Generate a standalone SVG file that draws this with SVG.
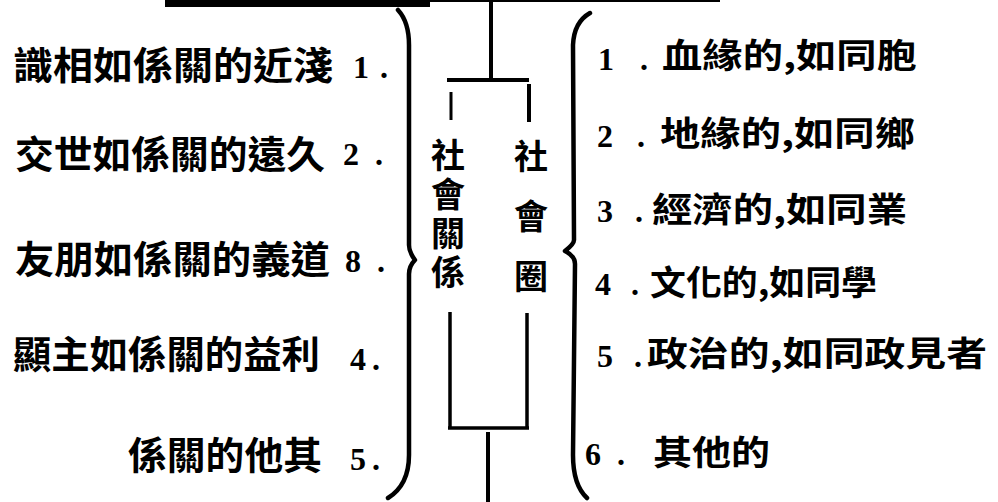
<svg xmlns="http://www.w3.org/2000/svg" width="998" height="502" viewBox="0 0 998 502">
<style>
.cjk{font-family:"Noto Sans CJK TC","Noto Sans CJK SC",sans-serif;font-weight:700;fill:#000}
.num{font-family:"Liberation Serif",serif;font-weight:700;fill:#000}
.l{font-size:38px}
.r{font-size:34px}
.v{font-size:34px;writing-mode:vertical-rl;text-orientation:upright}
.ln{stroke:#000;fill:none;stroke-linecap:butt}
.br{stroke:#000;fill:none;stroke-width:4.5;stroke-linecap:round;stroke-linejoin:round}
</style>
<rect width="998" height="502" fill="#fff"/>
<g id="top-rule">
<rect x="165" y="0" width="265" height="7" fill="#000"/>
<line class="ln" x1="430" y1="1" x2="720" y2="1" stroke-width="2"/>
</g>
<g id="connectors">
<line class="ln" x1="491" y1="0" x2="491" y2="80" stroke-width="4"/>
<line class="ln" x1="447" y1="80" x2="529" y2="80" stroke-width="4"/>
<line class="ln" x1="451" y1="92" x2="451" y2="120" stroke-width="3"/>
<line class="ln" x1="529" y1="84" x2="529" y2="122" stroke-width="4"/>
<line class="ln" x1="450" y1="312" x2="450" y2="429" stroke-width="3.5"/>
<line class="ln" x1="527" y1="313" x2="527" y2="429" stroke-width="3.5"/>
<line class="ln" x1="448" y1="428" x2="529" y2="428" stroke-width="3.5"/>
<line class="ln" x1="488" y1="432" x2="488" y2="502" stroke-width="4"/>
</g>
<g id="left-brace">
<path class="br" d="M398,10 Q409,22 409,45 L409,245 Q409,252 415,260 Q409,266 409,274 L409,455 Q409,485 388,498"/>
</g>
<g id="right-brace">
<path class="br" d="M590,13 Q574,22 573,45 L574,240 Q574,244 565,251 Q575,256 575,264 L573,455 Q573,485 587,498"/>
</g>
<g id="center-node">
<text class="cjk v" x="448" y="138" letter-spacing="5">社會關係</text>
<text class="cjk v" x="531" y="139" letter-spacing="26">社會圈</text>
</g>
<g id="left-1"><text class="cjk l" x="13" y="79" textLength="320" lengthAdjust="spacingAndGlyphs">識相如係關的近淺</text><text class="num" font-size="32" x="353" y="78" textLength="35" lengthAdjust="spacing">1.</text></g>
<g id="left-2"><text class="cjk l" x="15" y="168" textLength="310" lengthAdjust="spacingAndGlyphs">交世如係關的遠久</text><text class="num" font-size="32" x="343" y="165" textLength="40" lengthAdjust="spacing">2.</text></g>
<g id="left-3"><text class="cjk l" x="15" y="273" textLength="315" lengthAdjust="spacingAndGlyphs">友朋如係關的義道</text><text class="num" font-size="32" x="345" y="272" textLength="40" lengthAdjust="spacing">8.</text></g>
<g id="left-4"><text class="cjk l" x="13" y="368" textLength="307" lengthAdjust="spacingAndGlyphs">顯主如係關的益利</text><text class="num" font-size="32" x="350" y="370" textLength="30" lengthAdjust="spacing">4.</text></g>
<g id="left-5"><text class="cjk l" x="128" y="469" textLength="194" lengthAdjust="spacingAndGlyphs">係關的他其</text><text class="num" font-size="32" x="350" y="470" textLength="30" lengthAdjust="spacing">5.</text></g>
<g id="right-1"><text class="num" font-size="32" x="598" y="70" textLength="50" lengthAdjust="spacing">1.</text><text class="cjk r" x="662" y="68" textLength="255" lengthAdjust="spacingAndGlyphs">血緣的,如同胞</text></g>
<g id="right-2"><text class="num" font-size="32" x="597" y="147" textLength="48" lengthAdjust="spacing">2.</text><text class="cjk r" x="660" y="146" textLength="255" lengthAdjust="spacingAndGlyphs">地緣的,如同鄉</text></g>
<g id="right-3"><text class="num" font-size="32" x="597" y="222" textLength="46" lengthAdjust="spacing">3.</text><text class="cjk r" x="652" y="222" textLength="255" lengthAdjust="spacingAndGlyphs">經濟的,如同業</text></g>
<g id="right-4"><text class="num" font-size="32" x="595" y="295" textLength="44" lengthAdjust="spacing">4.</text><text class="cjk r" x="650" y="295" textLength="227" lengthAdjust="spacingAndGlyphs">文化的,如同學</text></g>
<g id="right-5"><text class="num" font-size="32" x="597" y="367" textLength="45" lengthAdjust="spacing">5.</text><text class="cjk r" x="647" y="366" textLength="340" lengthAdjust="spacingAndGlyphs">政治的,如同政見者</text></g>
<g id="right-6"><text class="num" font-size="32" x="585" y="465" textLength="40" lengthAdjust="spacing">6.</text><text class="cjk r" x="653" y="465" textLength="117" lengthAdjust="spacingAndGlyphs">其他的</text></g>
</svg>
